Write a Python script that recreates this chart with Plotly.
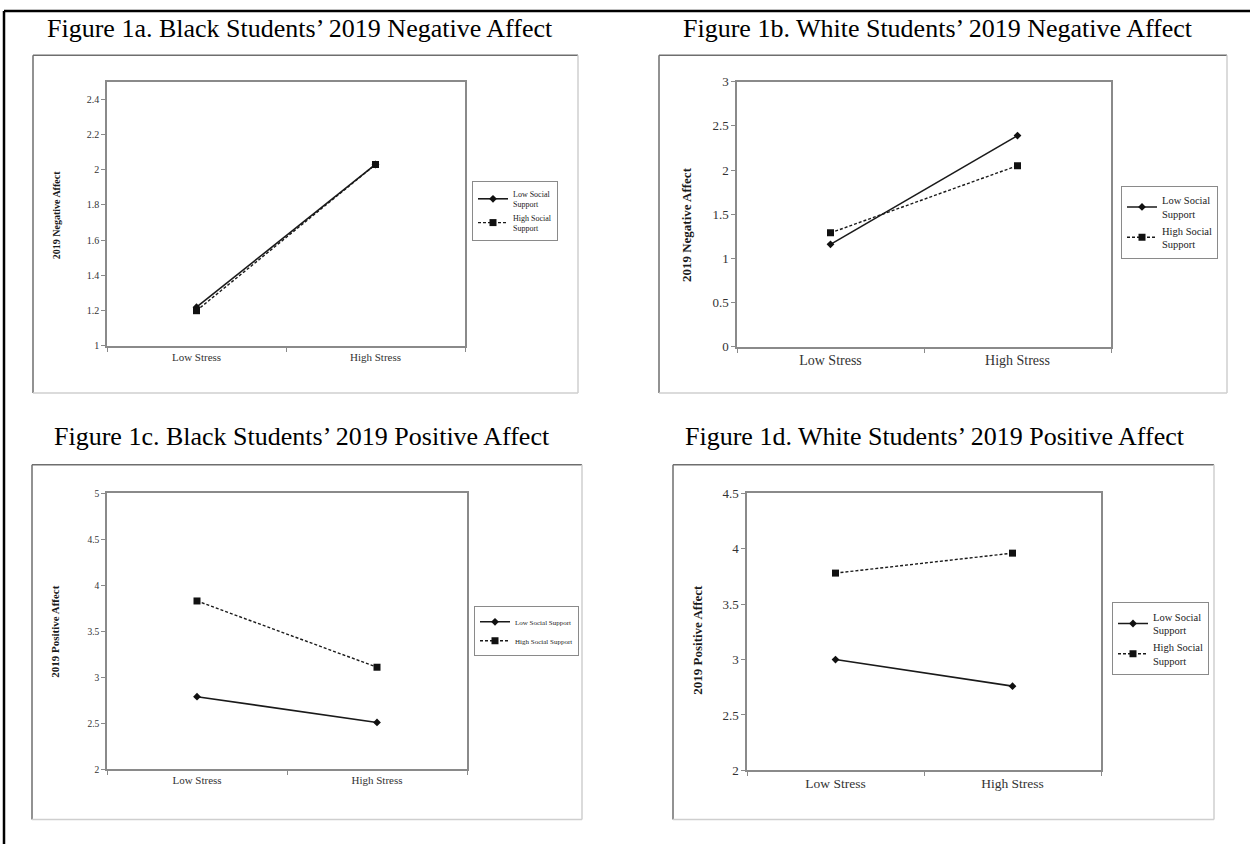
import plotly.graph_objects as go

W, H = 1250, 854

# ---- data -------------------------------------------------------------
stress_levels = ["Low Stress", "High Stress"]
support_groups = ["Low Social Support", "High Social Support"]

neg_black_low_support = [1.22, 2.03]
neg_black_high_support = [1.20, 2.03]
neg_white_low_support = [1.16, 2.39]
neg_white_high_support = [1.29, 2.05]
pos_black_low_support = [2.79, 2.51]
pos_black_high_support = [3.83, 3.11]
pos_white_low_support = [3.00, 2.76]
pos_white_high_support = [3.78, 3.96]

panel_titles = [
    "Figure 1a. Black Students\u2019 2019 Negative Affect",
    "Figure 1b. White Students\u2019 2019 Negative Affect",
    "Figure 1c. Black Students\u2019 2019 Positive Affect",
    "Figure 1d. White Students\u2019 2019 Positive Affect",
]
y_titles = ["2019 Negative Affect", "2019 Negative Affect",
            "2019 Positive Affect", "2019 Positive Affect"]

SERIF = "Liberation Serif, Times New Roman, serif"


def px_x(v):
    return v / W


def px_y(v):
    return 1 - v / H


# layout of each panel in pixels
panels = [
    dict(series=(neg_black_low_support, neg_black_high_support),
         plot=(107, 465, 76, 345), box=(33, 578, 49, 393),
         yrange=[1, 2.5], dtick=0.2, ytick_size=10, xtick_size=11,
         ytitle_size=10, ytitle_pos=(56, 212), title_pos=(300, 22),
         legend_pos=(472, 177), legend_size=8, wrap=True),
    dict(series=(neg_white_low_support, neg_white_high_support),
         plot=(737, 1111, 76, 346), box=(659, 1227, 49, 393),
         yrange=[0, 3], dtick=0.5, ytick_size=13, xtick_size=14,
         ytitle_size=13, ytitle_pos=(686, 222), title_pos=(938, 22),
         legend_pos=(1121, 182), legend_size=10.5, wrap=True),
    dict(series=(pos_black_low_support, pos_black_high_support),
         plot=(107, 467, 495, 776), box=(32, 582, 466, 827),
         yrange=[2, 5], dtick=0.5, ytick_size=9.5, xtick_size=11,
         ytitle_size=11, ytitle_pos=(55, 636), title_pos=(302, 437),
         legend_pos=(474, 610), legend_size=7, wrap=False),
    dict(series=(pos_white_low_support, pos_white_high_support),
         plot=(747, 1101, 495, 777), box=(673, 1214, 466, 827),
         yrange=[2, 4.5], dtick=0.5, ytick_size=13, xtick_size=13.5,
         ytitle_size=13, ytitle_pos=(698, 644), title_pos=(935, 437),
         legend_pos=(1112, 606), legend_size=10.5, wrap=True),
]

line_styles = [
    dict(line=dict(color="#1a1a1a", width=1.6, dash="solid"),
         marker=dict(symbol="diamond", size=6, color="#111111")),
    dict(line=dict(color="#1a1a1a", width=1.4, dash="3px,2px"),
         marker=dict(symbol="square", size=7, color="#111111")),
]

fig = go.Figure()
layout = dict(
    width=W, height=H, margin=dict(l=0, r=0, t=0, b=0),
    paper_bgcolor="white", plot_bgcolor="white",
    font=dict(family=SERIF, color="#222222"),
    showlegend=True,
)
annotations = []
shapes = []

for i, p in enumerate(panels):
    n = i + 1
    xa = "x" if n == 1 else f"x{n}"
    ya = "y" if n == 1 else f"y{n}"
    leg = "legend" if n == 1 else f"legend{n}"
    x0, x1, y0, y1 = p["plot"]

    for s, (vals, group) in enumerate(zip(p["series"], support_groups)):
        name = group.replace("Social ", "Social<br>") if p["wrap"] else group
        fig.add_trace(go.Scatter(
            x=stress_levels, y=vals, name=name, mode="lines+markers",
            xaxis=xa, yaxis=ya, legend=leg, **line_styles[s]))

    axis_line = dict(showline=True, mirror=True, linecolor="#8a8a8a",
                     linewidth=1.5, showgrid=False, zeroline=False,
                     ticks="outside", ticklen=4, tickcolor="#8a8a8a")
    layout["xaxis" if n == 1 else f"xaxis{n}"] = dict(
        domain=[px_x(x0), px_x(x1)], anchor=ya, type="category",
        categoryorder="array", categoryarray=stress_levels,
        range=[-0.5, 1.5], tickson="boundaries",
        tickfont=dict(size=p["xtick_size"], color="#333333"), **axis_line)
    layout["yaxis" if n == 1 else f"yaxis{n}"] = dict(
        domain=[px_y(y1), px_y(y0)], anchor=xa, range=p["yrange"],
        tick0=p["yrange"][0], dtick=p["dtick"],
        tickfont=dict(size=p["ytick_size"], color="#333333"), **axis_line)

    lx, ly = p["legend_pos"]
    layout[leg] = dict(
        x=px_x(lx), y=px_y(ly), xanchor="left", yanchor="top",
        bordercolor="#8a8a8a", borderwidth=1, bgcolor="white",
        font=dict(family=SERIF, size=p["legend_size"], color="#222222"),
        itemwidth=30, tracegroupgap=0)

    tx, ty = p["title_pos"]
    annotations.append(dict(
        text=panel_titles[i], x=px_x(tx), y=px_y(ty), xref="paper",
        yref="paper", xanchor="center", yanchor="middle", showarrow=False,
        font=dict(family=SERIF, size=26, color="black")))
    ax_, ay_ = p["ytitle_pos"]
    annotations.append(dict(
        text=f"<b>{y_titles[i]}</b>", x=px_x(ax_), y=px_y(ay_),
        xref="paper", yref="paper", xanchor="center", yanchor="middle",
        textangle=-90, showarrow=False,
        font=dict(family=SERIF, size=p["ytitle_size"], color="#1a1a1a")))

    # chart frame: darker on the top/left edges, faint on bottom/right
    bx0, bx1, by0, by1 = p["box"]
    for (ax0, ay0, ax1, ay1, col) in [
        (bx0, by0, bx1, by0, "#6e6e6e"),
        (bx0, by0, bx0, by1, "#6e6e6e"),
        (bx0, by1, bx1, by1, "#cfcfcf"),
        (bx1, by0, bx1, by1, "#cfcfcf"),
    ]:
        shapes.append(dict(type="line", xref="paper", yref="paper",
                           x0=px_x(ax0), y0=px_y(ay0), x1=px_x(ax1),
                           y1=px_y(ay1), line=dict(color=col, width=1.5)))

# page rule lines along the top and left edge
shapes.append(dict(type="line", xref="paper", yref="paper",
                   x0=px_x(4), y0=px_y(4), x1=1, y1=px_y(4),
                   line=dict(color="black", width=2.5)))
shapes.append(dict(type="line", xref="paper", yref="paper",
                   x0=px_x(4), y0=px_y(4), x1=px_x(4), y1=px_y(852),
                   line=dict(color="black", width=2.5)))

layout["annotations"] = annotations
layout["shapes"] = shapes
fig.update_layout(**layout)
fig.write_html("out.html")
